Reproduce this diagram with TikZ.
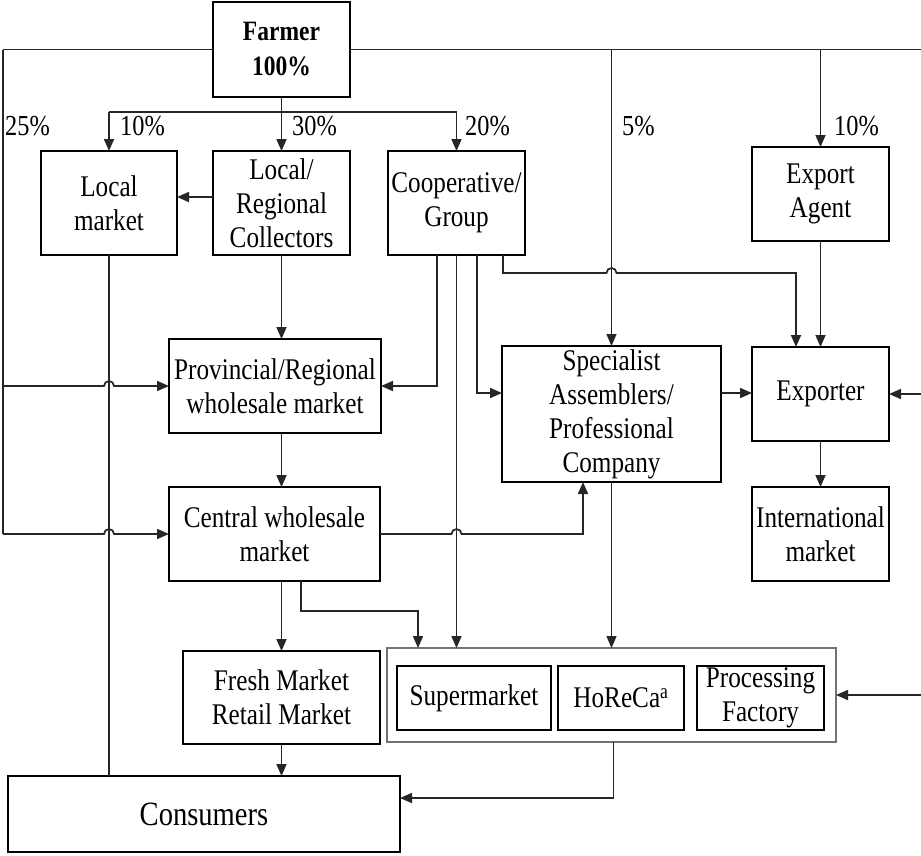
\documentclass[tikz,border=0pt]{standalone}
\usepackage{fontspec}
\setmainfont{Liberation Serif}[FakeStretch=0.84]
\usetikzlibrary{arrows.meta}
\tikzstyle{chainbox}=[draw=black,line width=1.8pt,align=center,
                      inner sep=0pt,outer sep=0pt,
                      font=\fontsize{30}{34}\selectfont]
\tikzstyle{pct}=[anchor=base west,inner sep=0pt,
                 font=\fontsize{29}{34}\selectfont]
\tikzstyle{flow}=[line width=1.7pt,draw=black!85,
                  -{Triangle[length=12pt,width=10pt]}]
\tikzstyle{wire}=[line width=1.8pt,draw=black!85]

\begin{document}
\begin{tikzpicture}[x=1pt,y=-1pt]
    \newcommand{\hop}[1]{-- ([xshift=-5pt]#1) arc[start angle=180,end angle=0,radius=5pt]}
    \useasboundingbox (0,0) rectangle (921,855);
    % boxes
    \node (farmer) at (281.5, 49.5) [chainbox,minimum width=137pt,minimum height=95pt,
          font=\fontsize{28}{35}\selectfont\bfseries]{Farmer\\100\%};
    \node (local)  at (109, 203)   [chainbox,minimum width=136pt,minimum height=104pt]{Local\\market};
    \node (coll)   at (281.5, 203) [chainbox,minimum width=137pt,minimum height=104pt]{Local/\\Regional\\Collectors};
    \node (coop)   at (456.5, 203) [chainbox,minimum width=137pt,minimum height=104pt]{Cooperative/\\Group};
    \node (agent)  at (820.5, 194) [chainbox,minimum width=137pt,minimum height=94pt]{Export\\Agent};
    \node (prov)   at (275, 386)   [chainbox,minimum width=212pt,minimum height=94pt]{Provincial/Regional\\wholesale market};
    \node (central) at (274.5, 534) [chainbox,minimum width=211pt,minimum height=94pt]{Central wholesale\\market};
    \node (spec)   at (611.5, 414) [chainbox,minimum width=219pt,minimum height=136pt]{Specialist\\Assemblers/\\Professional\\Company};
    \node (exporter) at (820.5, 394) [chainbox,minimum width=137pt,minimum height=94pt]{Exporter};
    \node (intl)   at (820.5, 534) [chainbox,minimum width=137pt,minimum height=94pt]{International\\market};
    \node (fresh)  at (281.5, 697.5) [chainbox,minimum width=197pt,minimum height=93pt]{Fresh Market\\Retail Market};
    \node (outlet) at (611.5, 695) [chainbox,draw=black!55,line width=1.2pt,minimum width=449pt,minimum height=94pt]{};
    \node (superm) at (474, 698)   [chainbox,minimum width=154pt,minimum height=64pt]{Supermarket};
    \node (horeca) at (621, 698)   [chainbox,minimum width=126pt,minimum height=64pt]{HoReCa\textsuperscript{a}};
    \node (factory) at (760.5, 698) [chainbox,minimum width=127pt,minimum height=64pt]{Processing\\Factory};
    \node (consumers) at (204, 814) [chainbox,minimum width=392pt,minimum height=76pt,
          font=\fontsize{34}{38}\selectfont]{Consumers};
    % bends
    \coordinate (lrim) at (3, 49.5);
    \coordinate (rim) at (925, 49.5);
    \coordinate (split) at (281.5, 112);
    \coordinate (c1) at (437, 386);
    \coordinate (c3) at (477, 393);
    \coordinate (c4) at (503, 273);
    \coordinate (cbend) at (301, 611);
    % farmer outputs
    \draw[wire] (lrim) -- (farmer.west) (farmer.east) -- (rim) -- (rim |- outlet.east);
    \draw[wire] (lrim) -- (lrim |- central.west);
    \draw[wire] (farmer.south) -- (split) (local.north |- split) -- (coop.north |- split);
    \draw[flow] (local.north |- split) -- (local.north);
    \draw[flow] (split) -- (coll.north);
    \draw[flow] (coop.north |- split) -- (coop.north);
    \draw[flow,line width=1.3pt] (spec.north |- farmer.east) -- (spec.north);
    \draw[flow] (agent.north |- farmer.east) -- (agent.north);
    \node at (5, 135)   [pct]{25\%};
    \node at (120, 135) [pct]{10\%};
    \node at (292, 135) [pct]{30\%};
    \node at (465, 135) [pct]{20\%};
    \node at (622, 135) [pct]{5\%};
    \node at (834, 135) [pct]{10\%};
    % left side
    \draw[flow] ([yshift=6pt]coll.west) -- ([yshift=6pt]local.east);
    \draw[wire,line width=1.2pt] (local.south) -- (local.south |- consumers.north);
    \draw[flow] (lrim |- prov.west) \hop{local.south |- prov.west} -- (prov.west);
    \draw[flow] (lrim |- central.west) \hop{local.south |- central.west} -- (central.west);
    \draw[flow] (coll.south) -- (coll.south |- prov.north);
    \draw[flow] (farmer.south |- prov.south) -- (farmer.south |- central.north);
    \draw[flow] (farmer.south |- central.south) -- (fresh.north);
    \draw[flow] (cbend |- central.south) -- (cbend) -| ([xshift=31pt]outlet.north west);
    \draw[flow] (fresh.south) -- (farmer.south |- consumers.north);
    % cooperative
    \draw[flow] (c1 |- coop.south) |- (prov.east);
    \draw[flow] (coop.south) -- (coop.south |- outlet.north);
    \draw[flow] (c3 |- coop.south) -- (c3) -- (c3 -| spec.west);
    \draw[flow] (c4 |- coop.south) -- (c4) \hop{spec.north |- c4} -| ([xshift=-24.5pt]exporter.north);
    \draw[flow] (central.east) \hop{coop.south |- central.east} -| ([xshift=81pt]spec.south west);
    % export side
    \draw[flow] (agent) -- (exporter);
    \draw[flow] (c3 -| spec.east) -- (c3 -| exporter.west);
    \draw[flow] (rim |- exporter.east) -- (exporter.east);
    \draw[flow] (exporter) -- (intl);
    \draw[flow,line width=1.3pt] (spec.south) -- (spec.south |- outlet.north);
    \draw[flow] (rim |- outlet.east) -- (outlet.east);
    \draw[flow] ([xshift=2pt]outlet.south) |- ([yshift=16pt]consumers.east);
  \end{tikzpicture}
\end{document}
